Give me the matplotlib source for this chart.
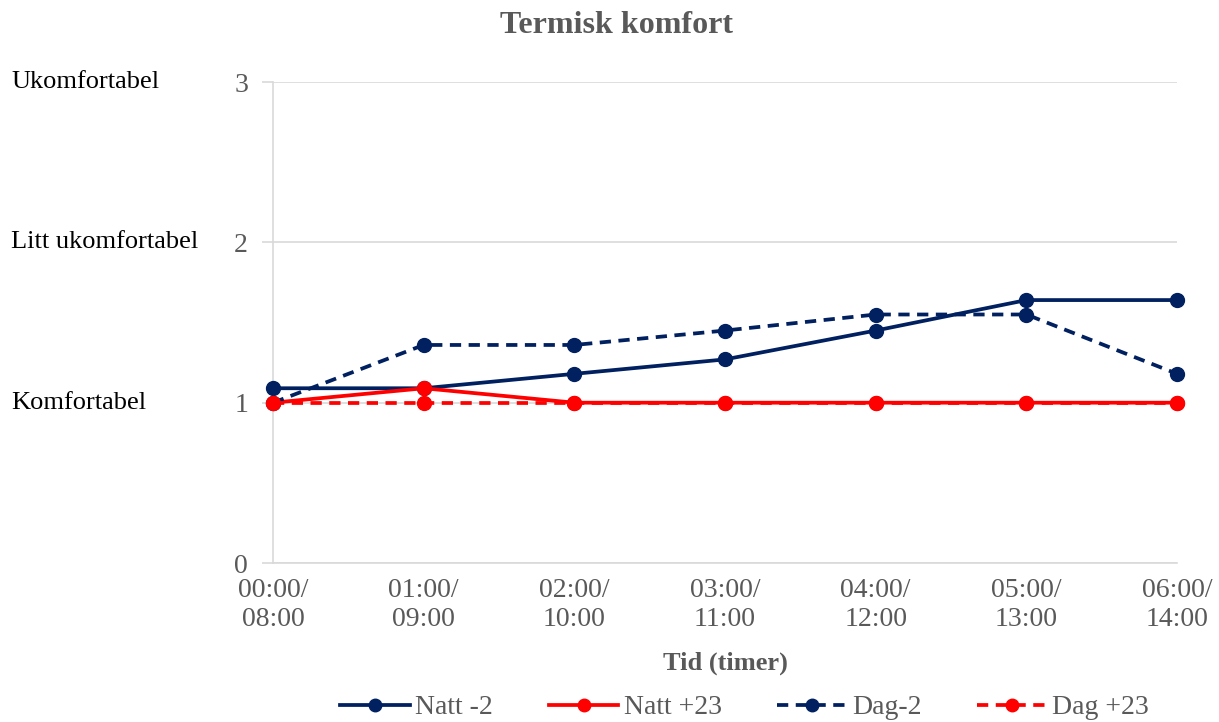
import matplotlib.pyplot as plt
import numpy as np

# data
tider = ["00:00/\n08:00", "01:00/\n09:00", "02:00/\n10:00", "03:00/\n11:00",
         "04:00/\n12:00", "05:00/\n13:00", "06:00/\n14:00"]
natt_minus2 = [1.09, 1.09, 1.18, 1.27, 1.45, 1.64, 1.64]
natt_pluss23 = [1.00, 1.09, 1.00, 1.00, 1.00, 1.00, 1.00]
dag_minus2 = [1.00, 1.36, 1.36, 1.45, 1.55, 1.55, 1.18]
dag_pluss23 = [1.00, 1.00, 1.00, 1.00, 1.00, 1.00, 1.00]
komfort_nivaa = [3, 2, 1]
komfort_tekst = ["Ukomfortabel", "Litt ukomfortabel", "Komfortabel"]

plt.rcParams['font.family'] = ['Liberation Serif', 'DejaVu Serif']

navy = "#002060"
red = "#ff0000"
gray = "#595959"
grid = "#d9d9d9"

fig = plt.figure(figsize=(12.19, 7.22), dpi=100)
ax = fig.add_axes([0.224, 0.2202, 0.7416, 0.6662])

x = np.arange(len(tider))
dash = (0, (3, 2))
stil = dict(lw=2.7, marker='o', ms=10, clip_on=False, zorder=3)
ax.plot(x, natt_minus2, color=navy, label="Natt -2", **stil)
ax.plot(x, natt_pluss23, color=red, label="Natt +23", **stil)
ax.plot(x, dag_minus2, color=navy, ls=dash, label="Dag-2", **stil)
ax.plot(x, dag_pluss23, color=red, ls=dash, label="Dag +23", **stil)

ax.set_xlim(0, len(tider) - 1)
ax.set_ylim(0, 3)
ax.set_yticks([0, 1, 2, 3])
ax.set_xticks(x)
ax.set_xticklabels(tider, linespacing=1.2)
ax.tick_params(axis='x', length=0, pad=11, labelsize=20, labelcolor=gray)
ax.tick_params(axis='y', length=8, color=grid, width=1.2, pad=10, labelsize=20, labelcolor=gray)

ax.grid(axis='y', color=grid, lw=1.2)
ax.set_axisbelow(True)
for side in ["top", "right"]:
    ax.spines[side].set_visible(False)
for side in ["left", "bottom"]:
    ax.spines[side].set_color(grid)
    ax.spines[side].set_linewidth(1.2)

# comfort labels at the far left, one per level
for niva, tekst in zip(komfort_nivaa, komfort_tekst):
    yfig = 0.2202 + 0.6662 * niva / 3
    fig.text(0.009, yfig, tekst, fontsize=19, color="black", va='center', ha='left')

fig.suptitle("Termisk komfort", x=0.506, y=0.985, fontsize=23, fontweight='bold', color=gray)
ax.set_xlabel("Tid (timer)", fontsize=19, fontweight='bold', color=gray, labelpad=14)

fig.legend(loc='center', bbox_to_anchor=(0.611, 0.02), ncol=4, frameon=False,
           fontsize=20, labelcolor=gray, handlelength=2.5, handletextpad=0.2,
           columnspacing=2.0, markerscale=0.9, borderpad=0)

plt.savefig("out.png", dpi=100)
